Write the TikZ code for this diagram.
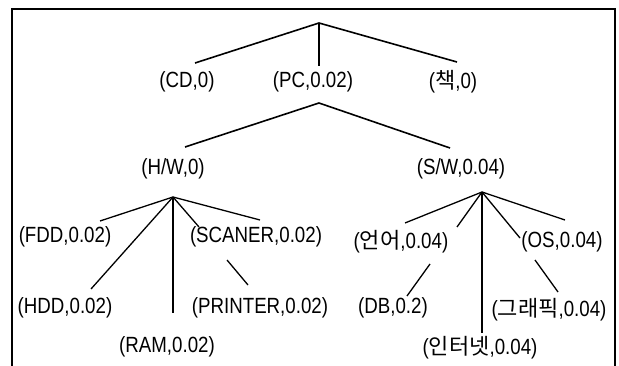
\documentclass[tikz,border=0pt]{standalone}
\usepackage{fontspec}
\setmainfont[FakeStretch=0.85]{Liberation Sans}
\newfontfamily\kr{Noto Sans CJK KR}
\begin{document}
\begin{tikzpicture}[x=1pt,y=-1pt,
  lab/.style={inner sep=0pt, font=\fontsize{22}{24}\selectfont},
  edge/.style={line width=1.3pt},
  thick edge/.style={line width=1.6pt},
  frame/.style={line width=1.2pt}]
\useasboundingbox (0,0) rectangle (619,366);
% frame (open at the bottom)
\coordinate (fbl) at (12,366);
\coordinate (ftl) at (12,9);
\coordinate (ftr) at (615,9);
\coordinate (fbr) at (615,366);
\draw[frame] (fbl) -- (ftl) -- (ftr) -- (fbr);

% labels
\node[lab] (cd)   at (187,82)  {(CD,0)};
\node[lab] (pc)   at (313,82)  {(PC,0.02)};
\node[lab] (book) at (453,82)  {({\kr 책},0)};
\node[lab] (hw)   at (173,169) {(H/W,0)};
\node[lab] (sw)   at (461,169) {(S/W,0.04)};
\node[lab] (fdd)  at (65,237)  {(FDD,0.02)};
\node[lab] (scan) at (256,237) {(SCANER,0.02)};
\node[lab] (hdd)  at (65,308)  {(HDD,0.02)};
\node[lab] (prn)  at (260,308) {(PRINTER,0.02)};
\node[lab] (ram)  at (167,347) {(RAM,0.02)};
\node[lab] (lang) at (401,242) {({\kr 언어},0.04)};
\node[lab] (os)   at (562,242) {(OS,0.04)};
\node[lab] (db)   at (393,308) {(DB,0.2)};
\node[lab] (gfx)  at (549,310) {({\kr 그래픽},0.04)};
\node[lab] (net)  at (480,348) {({\kr 인터넷},0.04)};

% level 1
\coordinate (r0) at (319,23);
\coordinate (r0cd) at (195,63);
\coordinate (r0pc) at (319,66);
\coordinate (r0bk) at (457,62);
\draw[thick edge] (r0) -- (r0cd);
\draw[thick edge] (r0) -- (r0pc);
\draw[thick edge] (r0) -- (r0bk);

% level 2
\coordinate (r1) at (319,103);
\coordinate (r1hw) at (185,147);
\coordinate (r1sw) at (450,148);
\draw[thick edge] (r1) -- (r1hw);
\draw[thick edge] (r1) -- (r1sw);

% H/W subtree
\coordinate (h0) at (173,197);
\coordinate (hfdd) at (100,221);
\coordinate (hhdd) at (91,289);
\coordinate (hram) at (173,313);
\coordinate (hsc1) at (199,227);
\coordinate (hscr) at (260,220);
\coordinate (hpr1) at (227,260);
\coordinate (hpr2) at (248,285);
\draw[edge] (h0) -- (hfdd);
\draw[edge] (h0) -- (hhdd);
\draw[edge] (h0) -- (hram);
\draw[edge] (h0) -- (hsc1);
\draw[edge] (h0) -- (hscr);
\draw[edge] (hpr1) -- (hpr2);

% S/W subtree
\coordinate (s0) at (482,192);
\coordinate (slang) at (405,223);
\coordinate (sdb1) at (457,227);
\coordinate (sdb2) at (430,264);
\coordinate (sdb3) at (407,296);
\coordinate (snet) at (482,333);
\coordinate (sos1) at (520,238);
\coordinate (sgf2) at (535,260);
\coordinate (sgf3) at (558,292);
\coordinate (sosr) at (565,220);
\draw[edge] (s0) -- (slang);
\draw[edge] (s0) -- (sdb1);
\draw[edge] (sdb2) -- (sdb3);
\draw[edge] (s0) -- (snet);
\draw[edge] (s0) -- (sos1);
\draw[edge] (sgf2) -- (sgf3);
\draw[edge] (s0) -- (sosr);
\end{tikzpicture}
\end{document}
